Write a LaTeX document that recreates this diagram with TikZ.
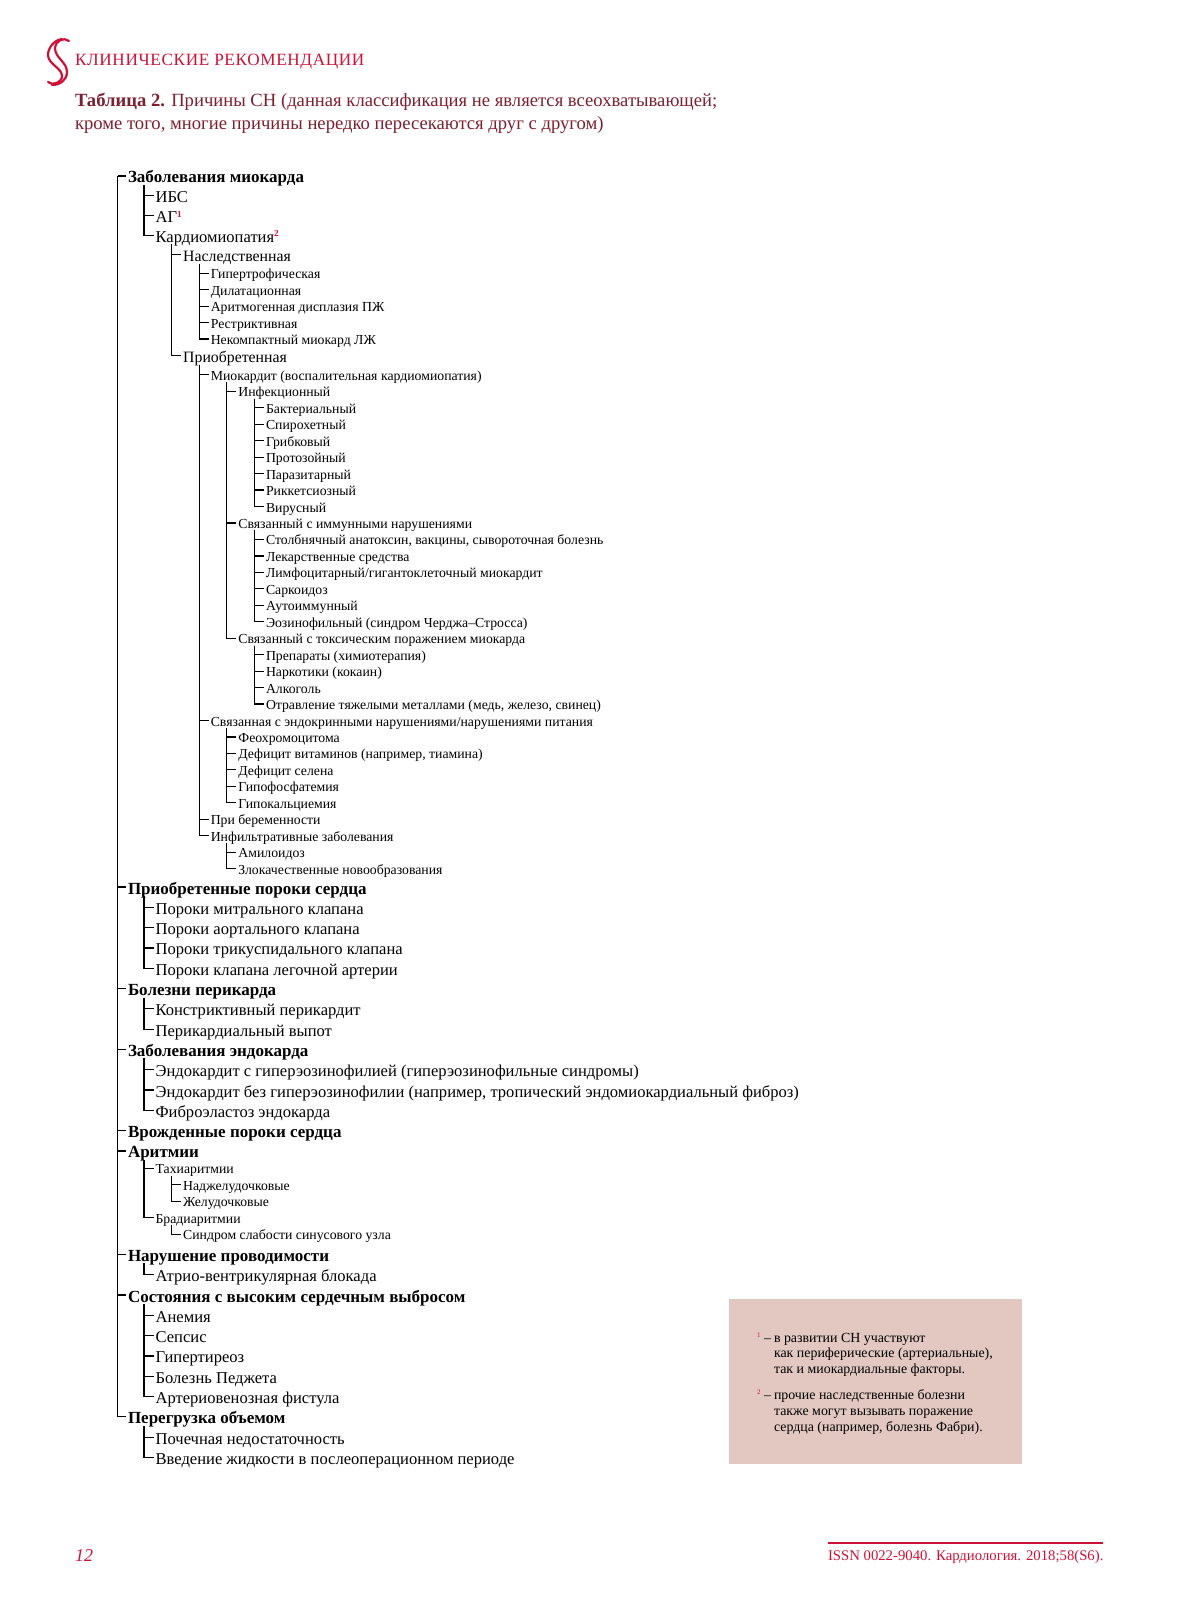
\documentclass[tikz,border=0pt]{standalone}
\usepackage{fontspec}
\setmainfont{Liberation Serif}
\usepackage{tikz}
\usetikzlibrary{positioning}
\definecolor{crim}{HTML}{CE1237}
\definecolor{wine}{HTML}{7D1F2F}
\definecolor{rose}{HTML}{E3C8C2}
\newcommand{\mk}[1]{\textcolor{crim}{\raisebox{2.6pt}{\fontsize{4.6}{5}\selectfont\bfseries #1}}}
\newcommand{\lbig}{10.15pt}
\newcommand{\lsmall}{8.23pt}

\begin{document}
\begin{tikzpicture}[
		x=.5pt,
		y=-.5pt,
		line width=.6pt,
		main node/.style={inner sep=0pt,outer sep=0pt,anchor=west},
		head node/.style={main node,font=\fontsize{8.5}{10}\selectfont\bfseries,text height=8pt,text depth=1pt},
		big node/.style={main node,font=\fontsize{8.28}{10}\selectfont,text height=8pt,text depth=1pt},
		mid node/.style={main node,font=\fontsize{7.9}{10}\selectfont,text height=8pt,text depth=1pt},
		small node/.style={main node,font=\fontsize{6.88}{9}\selectfont,text height=6.5pt,text depth=1pt},
		tb/.style={below=9.85pt of #1.west},
		bb/.style={below=\lbig of #1.west},
		ss/.style={below=\lsmall of #1.west},
		sub/.style={xshift=13.8pt},
		back/.style={xshift=-#1*13.8pt},
		every edge/.style={draw,to path={([xshift=8pt]\tikztostart.south west) |- ([xshift=-1pt]\tikztotarget.west)}},
		root line/.style={to path={(\tikztostart) |- ([xshift=-1pt]\tikztotarget.west)}},
		page text/.style={inner sep=0pt,outer sep=0pt,anchor=base west},
		note/.style={inner sep=0pt,outer sep=0pt,anchor=north west,align=left,font=\fontsize{6.95}{7.8}\selectfont},
		logo line/.style={crim,line width=1.1pt,line cap=round}
		]
		\useasboundingbox (0,0) rectangle (1187,1600);

		% header
		\draw[logo line] (62,39) .. controls (54,40) and (48,48) .. (48,55) .. controls (48,64) and (62,68) .. (62,76) .. controls (62,83) and (52,86) .. (48,82);
		\draw[logo line] (69,41) .. controls (64,37) and (56,40) .. (55,48) .. controls (55,58) and (67,62) .. (67,72) .. controls (67,80) and (60,85) .. (52,85);
		\node[page text,font=\fontsize{8.6}{11}\selectfont\addfontfeature{LetterSpace=3.7},text=crim] (hdr) at (75,66) {КЛИНИЧЕСКИЕ РЕКОМЕНДАЦИИ};
		\node[page text,font=\fontsize{9.32}{11}\selectfont,text=wine] (ttla) at (75,107) {\textbf{Таблица 2.} Причины СН (данная классификация не является всеохватывающей;};
		\node[page text,font=\fontsize{9.32}{11}\selectfont,text=wine] (ttlb) at (75,130) {кроме того, многие причины нередко пересекаются друг с другом)};

		% tree
		\node[head node] (zabm) at (128,176) {Заболевания миокарда};
		\coordinate[left=5.2pt of zabm.west] (root);
		\node[tb=zabm,big node,sub] (ibs) {ИБС};
		\node[tb=ibs,big node] (ag) {АГ\mk{1}};
		\node[tb=ag,big node] (kmp) {Кардиомиопатия\mk{2}};
		\node[tb=kmp,mid node,sub] (nasl) {Наследственная};
		\node[below=9.2pt of nasl.west,small node,sub] (gipt) {Гипертрофическая};
		\node[ss=gipt,small node] (dil) {Дилатационная};
		\node[ss=dil,small node] (arit) {Аритмогенная дисплазия ПЖ};
		\node[ss=arit,small node] (restr) {Рестриктивная};
		\node[ss=restr,small node] (nekom) {Некомпактный миокард ЛЖ};
		\node[below=8.4pt of nekom.west,mid node,back=1] (prio) {Приобретенная};
		\node[below=9.5pt of prio.west,small node,sub] (miok) {Миокардит (воспалительная кардиомиопатия)};
		\node[ss=miok,small node,sub] (infk) {Инфекционный};
		\node[ss=infk,small node,sub] (bakt) {Бактериальный};
		\node[ss=bakt,small node] (spir) {Спирохетный};
		\node[ss=spir,small node] (grib) {Грибковый};
		\node[ss=grib,small node] (prot) {Протозойный};
		\node[ss=prot,small node] (parz) {Паразитарный};
		\node[ss=parz,small node] (rikk) {Риккетсиозный};
		\node[ss=rikk,small node] (virs) {Вирусный};
		\node[ss=virs,small node,back=1] (immn) {Связанный с иммунными нарушениями};
		\node[ss=immn,small node,sub] (stol) {Столбнячный анатоксин, вакцины, сывороточная болезнь};
		\node[ss=stol,small node] (leks) {Лекарственные средства};
		\node[ss=leks,small node] (limf) {Лимфоцитарный/гигантоклеточный миокардит};
		\node[ss=limf,small node] (sark) {Саркоидоз};
		\node[ss=sark,small node] (auto) {Аутоиммунный};
		\node[ss=auto,small node] (eoz) {Эозинофильный (синдром Черджа–Стросса)};
		\node[ss=eoz,small node,back=1] (toks) {Связанный с токсическим поражением миокарда};
		\node[ss=toks,small node,sub] (prep) {Препараты (химиотерапия)};
		\node[ss=prep,small node] (nark) {Наркотики (кокаин)};
		\node[ss=nark,small node] (alko) {Алкоголь};
		\node[ss=alko,small node] (otr) {Отравление тяжелыми металлами (медь, железо, свинец)};
		\node[ss=otr,small node,back=2] (endo) {Связанная с эндокринными нарушениями/нарушениями питания};
		\node[ss=endo,small node,sub] (feo) {Феохромоцитома};
		\node[ss=feo,small node] (dvit) {Дефицит витаминов (например, тиамина)};
		\node[ss=dvit,small node] (dsel) {Дефицит селена};
		\node[ss=dsel,small node] (gfos) {Гипофосфатемия};
		\node[ss=gfos,small node] (gkal) {Гипокальциемия};
		\node[ss=gkal,small node,back=1] (bere) {При беременности};
		\node[ss=bere,small node] (infl) {Инфильтративные заболевания};
		\node[ss=infl,small node,sub] (amil) {Амилоидоз};
		\node[ss=amil,small node] (zlok) {Злокачественные новообразования};
		\node[below=9.2pt of zlok.west,head node,back=4] (porok) {Приобретенные пороки сердца};
		\node[bb=porok,big node,sub] (mitr) {Пороки митрального клапана};
		\node[bb=mitr,big node] (aort) {Пороки аортального клапана};
		\node[bb=aort,big node] (trik) {Пороки трикуспидального клапана};
		\node[bb=trik,big node] (legk) {Пороки клапана легочной артерии};
		\node[bb=legk,head node,back=1] (peri) {Болезни перикарда};
		\node[bb=peri,big node,sub] (kons) {Констриктивный перикардит};
		\node[bb=kons,big node] (vypo) {Перикардиальный выпот};
		\node[bb=vypo,head node,back=1] (zend) {Заболевания эндокарда};
		\node[bb=zend,big node,sub] (egip) {Эндокардит с гиперэозинофилией (гиперэозинофильные синдромы)};
		\node[bb=egip,big node] (ebez) {Эндокардит без гиперэозинофилии (например, тропический эндомиокардиальный фиброз)};
		\node[bb=ebez,big node] (fibr) {Фиброэластоз эндокарда};
		\node[bb=fibr,head node,back=1] (vrog) {Врожденные пороки сердца};
		\node[bb=vrog,head node] (arir) {Аритмии};
		\node[below=8.7pt of arir.west,small node,sub] (tahi) {Тахиаритмии};
		\node[ss=tahi,small node,sub] (nadg) {Наджелудочковые};
		\node[ss=nadg,small node] (gelu) {Желудочковые};
		\node[ss=gelu,small node,back=1] (brad) {Брадиаритмии};
		\node[ss=brad,small node,sub] (sind) {Синдром слабости синусового узла};
		\node[bb=sind,head node,back=2] (prov) {Нарушение проводимости};
		\node[bb=prov,big node,sub] (atri) {Атрио-вентрикулярная блокада};
		\node[bb=atri,head node,back=1] (sost) {Состояния с высоким сердечным выбросом};
		\node[bb=sost,big node,sub] (anem) {Анемия};
		\node[bb=anem,big node] (seps) {Сепсис};
		\node[bb=seps,big node] (gtir) {Гипертиреоз};
		\node[bb=gtir,big node] (pedg) {Болезнь Педжета};
		\node[bb=pedg,big node] (fist) {Артериовенозная фистула};
		\node[bb=fist,head node,back=1] (pere) {Перегрузка объемом};
		\node[bb=pere,big node,sub] (poch) {Почечная недостаточность};
		\node[bb=poch,big node] (vved) {Введение жидкости в послеоперационном периоде};

		\path
		(root) edge[root line] (zabm)
		(root) edge[root line] (porok)
		(root) edge[root line] (peri)
		(root) edge[root line] (zend)
		(root) edge[root line] (vrog)
		(root) edge[root line] (arir)
		(root) edge[root line] (prov)
		(root) edge[root line] (sost)
		(root) edge[root line] (pere)
		(zabm) edge (ibs)
		(zabm) edge (ag)
		(zabm) edge (kmp)
		(kmp) edge (nasl)
		(kmp) edge (prio)
		(nasl) edge (gipt)
		(nasl) edge (dil)
		(nasl) edge (arit)
		(nasl) edge (restr)
		(nasl) edge (nekom)
		(prio) edge (miok)
		(prio) edge (endo)
		(prio) edge (bere)
		(prio) edge (infl)
		(miok) edge (infk)
		(miok) edge (immn)
		(miok) edge (toks)
		(infk) edge (bakt)
		(infk) edge (spir)
		(infk) edge (grib)
		(infk) edge (prot)
		(infk) edge (parz)
		(infk) edge (rikk)
		(infk) edge (virs)
		(immn) edge (stol)
		(immn) edge (leks)
		(immn) edge (limf)
		(immn) edge (sark)
		(immn) edge (auto)
		(immn) edge (eoz)
		(toks) edge (prep)
		(toks) edge (nark)
		(toks) edge (alko)
		(toks) edge (otr)
		(endo) edge (feo)
		(endo) edge (dvit)
		(endo) edge (dsel)
		(endo) edge (gfos)
		(endo) edge (gkal)
		(infl) edge (amil)
		(infl) edge (zlok)
		(porok) edge (mitr)
		(porok) edge (aort)
		(porok) edge (trik)
		(porok) edge (legk)
		(peri) edge (kons)
		(peri) edge (vypo)
		(zend) edge (egip)
		(zend) edge (ebez)
		(zend) edge (fibr)
		(arir) edge (tahi)
		(arir) edge (brad)
		(tahi) edge (nadg)
		(tahi) edge (gelu)
		(brad) edge (sind)
		(prov) edge (atri)
		(sost) edge (anem)
		(sost) edge (seps)
		(sost) edge (gtir)
		(sost) edge (pedg)
		(sost) edge (fist)
		(pere) edge (poch)
		(pere) edge (vved);

		% notes
		\fill[rose] (729,1299) rectangle (1022,1464);
		\node[note] (nota) at (774,1333) {в развитии СН участвуют\\как периферические (артериальные),\\так и миокардиальные факторы.};
		\node[note] (notb) at (774,1390) {прочие наследственные болезни\\также могут вызывать поражение\\сердца (например, болезнь Фабри).};
		\node[page text,font=\fontsize{6.95}{8}\selectfont] (dasha) at (764,1342) {–};
		\node[page text,font=\fontsize{6.95}{8}\selectfont] (dashb) at (764,1399) {–};
		\node[page text,font=\fontsize{3.5}{4}\selectfont,text=crim] (marka) at (757,1337) {1};
		\node[page text,font=\fontsize{3.5}{4}\selectfont,text=crim] (markb) at (757,1394) {2};

		% footer
		\node[page text,font=\fontsize{9}{11}\selectfont\itshape,text=crim] (pgno) at (75,1561) {12};
		\node[page text,font=\fontsize{7.37}{10}\selectfont,text=crim] (issn) at (828,1560) {ISSN 0022-9040. Кардиология. 2018;58(S6).};
		\coordinate (rulea) at (828,1543);
		\coordinate (ruleb) at (1103,1543);
		\draw[crim] (rulea) -- (ruleb);
	\end{tikzpicture}
\end{document}
